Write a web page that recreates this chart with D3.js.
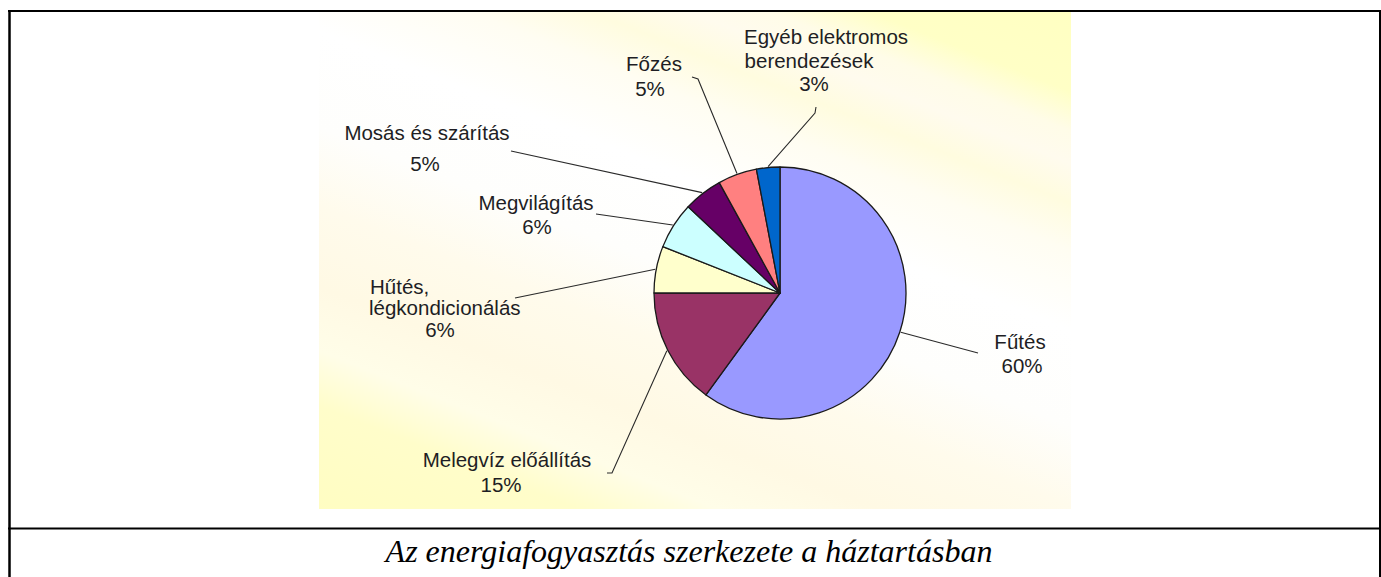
<!DOCTYPE html>
<html>
<head>
<meta charset="utf-8">
<script src="https://cdnjs.cloudflare.com/ajax/libs/d3/7.8.5/d3.min.js"></script>
<style>
  body { margin: 0; background: #ffffff; }
  svg { display: block; }
</style>
</head>
<body>
<svg id="chart" width="1381" height="577"></svg>
<script>
// Household energy consumption by end use (percent)
const categories = [
  "Fűtés",
  "Melegvíz előállítás",
  "Hűtés, légkondicionálás",
  "Megvilágítás",
  "Mosás és szárítás",
  "Főzés",
  "Egyéb elektromos berendezések"
];
const shares = [60, 15, 6, 6, 5, 5, 3];
const sliceColors = ["#9999FF", "#993366", "#FFFFCC", "#CCFFFF", "#660066", "#FF8080", "#0066CC"];
const captionText = "Az energiafogyasztás szerkezete a háztartásban";

// Label placement: text lines for each slice (the last line carries the percentage)
const labelLines = [
  ["Fűtés"],
  ["Melegvíz előállítás"],
  ["Hűtés,", "légkondicionálás"],
  ["Megvilágítás"],
  ["Mosás és szárítás"],
  ["Főzés"],
  ["Egyéb elektromos", "berendezések"]
];
// per line: [x, baseline y, anchor]
const labelLayout = [
  [[1020, 349, "middle"], [1022, 373, "middle"]],
  [[507, 467, "middle"], [501, 492, "middle"]],
  [[370, 294, "start"], [369, 315, "start"], [440, 337, "middle"]],
  [[536, 210, "middle"], [537, 234, "middle"]],
  [[427, 140, "middle"], [425, 171, "middle"]],
  [[654, 71, "middle"], [650, 96, "middle"]],
  [[826, 44, "middle"], [809, 68, "middle"], [814, 91, "middle"]]
];
// leader line points on the label side; the last point is on the slice rim
const leaderStarts = [
  [[978, 353]],
  [[607, 473], [612, 473]],
  [[515, 298]],
  [[596, 214]],
  [[511, 151]],
  [[692, 77], [698, 79]],
  [[816, 107], [815, 113]]
];

const W = 1381, H = 577;
const svg = d3.select("#chart");

// ---- background panel of the chart picture ----
const defs = svg.append("defs");
const bg = defs.append("linearGradient")
  .attr("id", "panelFill")
  .attr("gradientUnits", "userSpaceOnUse")
  .attr("x1", 1071).attr("y1", 12)
  .attr("x2", 797).attr("y2", 700);
[
  [0.00, "#FFFFC2"], [0.10, "#FFFFC6"], [0.15, "#FFFCE8"], [0.19, "#FFFBEE"],
  [0.24, "#FFFCDF"], [0.30, "#FFFDF2"], [0.40, "#FFFFFF"], [0.52, "#FEFEFC"],
  [0.62, "#FFFBEC"], [0.72, "#FFF9E4"], [0.80, "#FFFDE8"], [0.87, "#FFFDCA"],
  [1.00, "#FFFDC2"]
].forEach(([o, c]) => bg.append("stop").attr("offset", o).attr("stop-color", c));

svg.append("rect")
  .attr("x", 319).attr("y", 12)
  .attr("width", 1071 - 319).attr("height", 509 - 12)
  .attr("fill", "url(#panelFill)");

// ---- pie ----
const cx = 780, cy = 293, R = 126;
const pie = d3.pie().sort(null).value(d => d)
  .startAngle(0).endAngle(2 * Math.PI);
const arcs = pie(shares);
const arc = d3.arc().innerRadius(0).outerRadius(R);
const rimArc = d3.arc().innerRadius(R + 1).outerRadius(R + 1);

const g = svg.append("g").attr("transform", `translate(${cx},${cy})`);
g.selectAll("path.slice")
  .data(arcs)
  .join("path")
  .attr("class", "slice")
  .attr("d", arc)
  .attr("fill", (d, i) => sliceColors[i])
  .attr("stroke", "#1a1a1a")
  .attr("stroke-width", 1.3)
  .attr("stroke-linejoin", "round");

// ---- leader lines ----
const line = d3.line();
svg.append("g").selectAll("path.leader")
  .data(arcs)
  .join("path")
  .attr("class", "leader")
  .attr("d", (d, i) => {
    const [mx, my] = rimArc.centroid(d);
    return line(leaderStarts[i].concat([[cx + mx, cy + my]]));
  })
  .attr("fill", "none")
  .attr("stroke", "#2a2a2a")
  .attr("stroke-width", 1.1);

// ---- labels ----
const labels = svg.append("g")
  .attr("font-family", "'Liberation Sans', Arial, sans-serif")
  .attr("font-size", 20.5)
  .attr("fill", "#1e1e24");
arcs.forEach((d, i) => {
  const lines = labelLines[i].concat([`${shares[i]}%`]);
  lines.forEach((txt, j) => {
    const [x, y, anchor] = labelLayout[i][j];
    labels.append("text")
      .attr("x", x).attr("y", y)
      .attr("text-anchor", anchor)
      .text(txt);
  });
});

// ---- frame and caption row ----
const frame = svg.append("g").attr("stroke", "#000").attr("fill", "none");
frame.append("line").attr("x1", 9.5).attr("x2", 9.5).attr("y1", 10).attr("y2", H).attr("stroke-width", 2.5);
frame.append("line").attr("x1", 1380).attr("x2", 1380).attr("y1", 10).attr("y2", H).attr("stroke-width", 2);
frame.append("line").attr("x1", 8).attr("x2", 1381).attr("y1", 11).attr("y2", 11).attr("stroke-width", 2);
frame.append("line").attr("x1", 8).attr("x2", 1381).attr("y1", 528.5).attr("y2", 528.5).attr("stroke-width", 2);

svg.append("text")
  .attr("x", 689).attr("y", 562)
  .attr("text-anchor", "middle")
  .attr("font-family", "'Liberation Serif', 'Times New Roman', serif")
  .attr("font-style", "italic")
  .attr("font-size", 32)
  .attr("fill", "#000")
  .text(captionText);
</script>
</body>
</html>
